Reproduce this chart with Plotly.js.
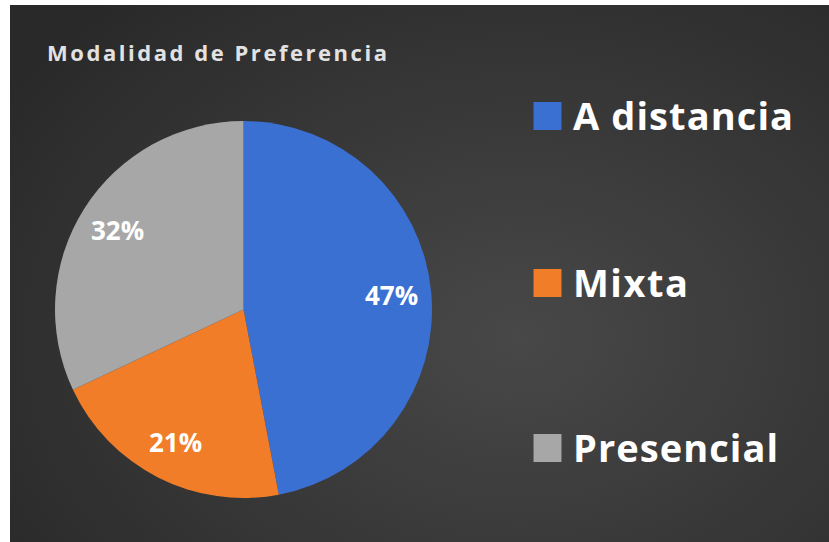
<!DOCTYPE html>
<html><head><meta charset="utf-8">
<script src="https://cdn.plot.ly/plotly-3.0.1.min.js"></script>
<style>
html,body{margin:0;padding:0;background:#fff;}
#wrap{position:relative;width:829px;height:542px;overflow:hidden;}
#bg{position:absolute;left:10px;top:5px;right:0;bottom:0;
  background:radial-gradient(ellipse 75% 85% at 62% 62%, #484848 0%, #3a3a3a 45%, #292929 100%);}
#chart{position:absolute;left:0;top:0;width:829px;height:542px;}
</style></head><body>
<div id="wrap"><div id="bg"></div><div id="chart"></div></div>
<script>
const chartTitle = 'Modalidad de Preferencia';
const categories = ['A distancia', 'Mixta', 'Presencial'];
const shares = [47, 21, 32];
const sliceColors = ['#3b70d3', '#f17d28', '#a7a7a7'];

const W = 829, H = 542;
const pieLeft = 55, pieRight = 432, pieTop = 121, pieBottom = 498;
const labelRadiusFrac = 0.79;

const data = [{
  type: 'pie',
  labels: categories,
  values: shares,
  sort: false,
  direction: 'clockwise',
  rotation: 0,
  marker: {colors: sliceColors, line: {width: 0}},
  textinfo: 'none',
  textposition: 'none',
  domain: {x: [pieLeft / W, pieRight / W], y: [1 - pieBottom / H, 1 - pieTop / H]},
  hoverinfo: 'none'
}];

// percentage labels placed at each slice's mid-angle (computed from the data)
const total = shares.reduce((a, b) => a + b, 0);
const cx = (pieLeft + pieRight) / 2, cy = (pieTop + pieBottom) / 2, R = (pieRight - pieLeft) / 2;
let cum = 0;
const annotations = shares.map(v => {
  const mid = (cum + v / 2) / total * 2 * Math.PI;
  cum += v;
  const px = cx + labelRadiusFrac * R * Math.sin(mid);
  const py = cy - labelRadiusFrac * R * Math.cos(mid);
  return {
    text: Math.round(v / total * 100) + '%',
    x: px / W, y: 1 - py / H, xref: 'paper', yref: 'paper',
    xanchor: 'center', yanchor: 'middle', showarrow: false,
    font: {family: 'Open Sans', size: 26, color: '#ffffff', weight: 700}
  };
});

const layout = {
  width: W, height: H,
  margin: {l: 0, r: 0, t: 0, b: 0},
  paper_bgcolor: 'rgba(0,0,0,0)',
  plot_bgcolor: 'rgba(0,0,0,0)',
  title: {
    text: chartTitle,
    font: {family: 'Open Sans', size: 22, color: '#e2e2e2', weight: 700},
    x: 47 / W, xanchor: 'left', xref: 'container',
    y: 1 - 53 / H, yanchor: 'middle', yref: 'container'
  },
  annotations: annotations,
  showlegend: true,
  legend: {
    x: 0.63, xanchor: 'left', y: 0.85, yanchor: 'top',
    font: {family: 'Open Sans', size: 38, color: '#ffffff', weight: 700},
    bgcolor: 'rgba(0,0,0,0)', borderwidth: 0
  },
  hovermode: false
};

function spaceText(el, target) {
  el.setAttribute('letter-spacing', '0');
  const natural = el.getComputedTextLength();
  const n = el.textContent.length;
  const ls = Math.max(0, (target - natural) / (n - 1));
  el.setAttribute('letter-spacing', ls.toFixed(2));
  el.style.letterSpacing = ls.toFixed(2) + 'px';
}

Plotly.newPlot('chart', data, layout, {staticPlot: true, displayModeBar: false}).then(gd => {
  const t = gd.querySelector('.gtitle');
  if (t) spaceText(t, 340);

  const baselines = [130, 297, 462];
  const widths = [220, 115, 205];
  const textLeft = 573;
  const scroll = gd.querySelector('.legend .scrollbox');
  if (scroll) { scroll.removeAttribute('clip-path'); scroll.style.clipPath = 'none'; }
  const box = gd.getBoundingClientRect();
  gd.querySelectorAll('.legend .traces').forEach((tr, i) => {
    const txt = tr.querySelector('text.legendtext');
    if (!txt) return;
    spaceText(txt, widths[i]);
    const tx = parseFloat(txt.getAttribute('x')) || 0;
    const ty = parseFloat(txt.getAttribute('y')) || 0;
    const sym = tr.querySelector('path.legendpie');
    if (sym) sym.setAttribute('transform', `translate(${tx - 25.5},${ty - 14}) scale(2.33)`);
    const m = /translate\(\s*([-\d.e]+)[\s,]+([-\d.e]+)\s*\)/.exec(tr.getAttribute('transform') || '');
    const ox = m ? +m[1] : 0, oy = m ? +m[2] : 0;
    const ctm = txt.getScreenCTM();
    const px = ctm.a * tx + ctm.c * ty + ctm.e - box.left;
    const py = ctm.b * tx + ctm.d * ty + ctm.f - box.top;
    tr.setAttribute('transform', `translate(${ox + textLeft - px},${oy + baselines[i] - py})`);
  });
});
</script>
</body></html>
